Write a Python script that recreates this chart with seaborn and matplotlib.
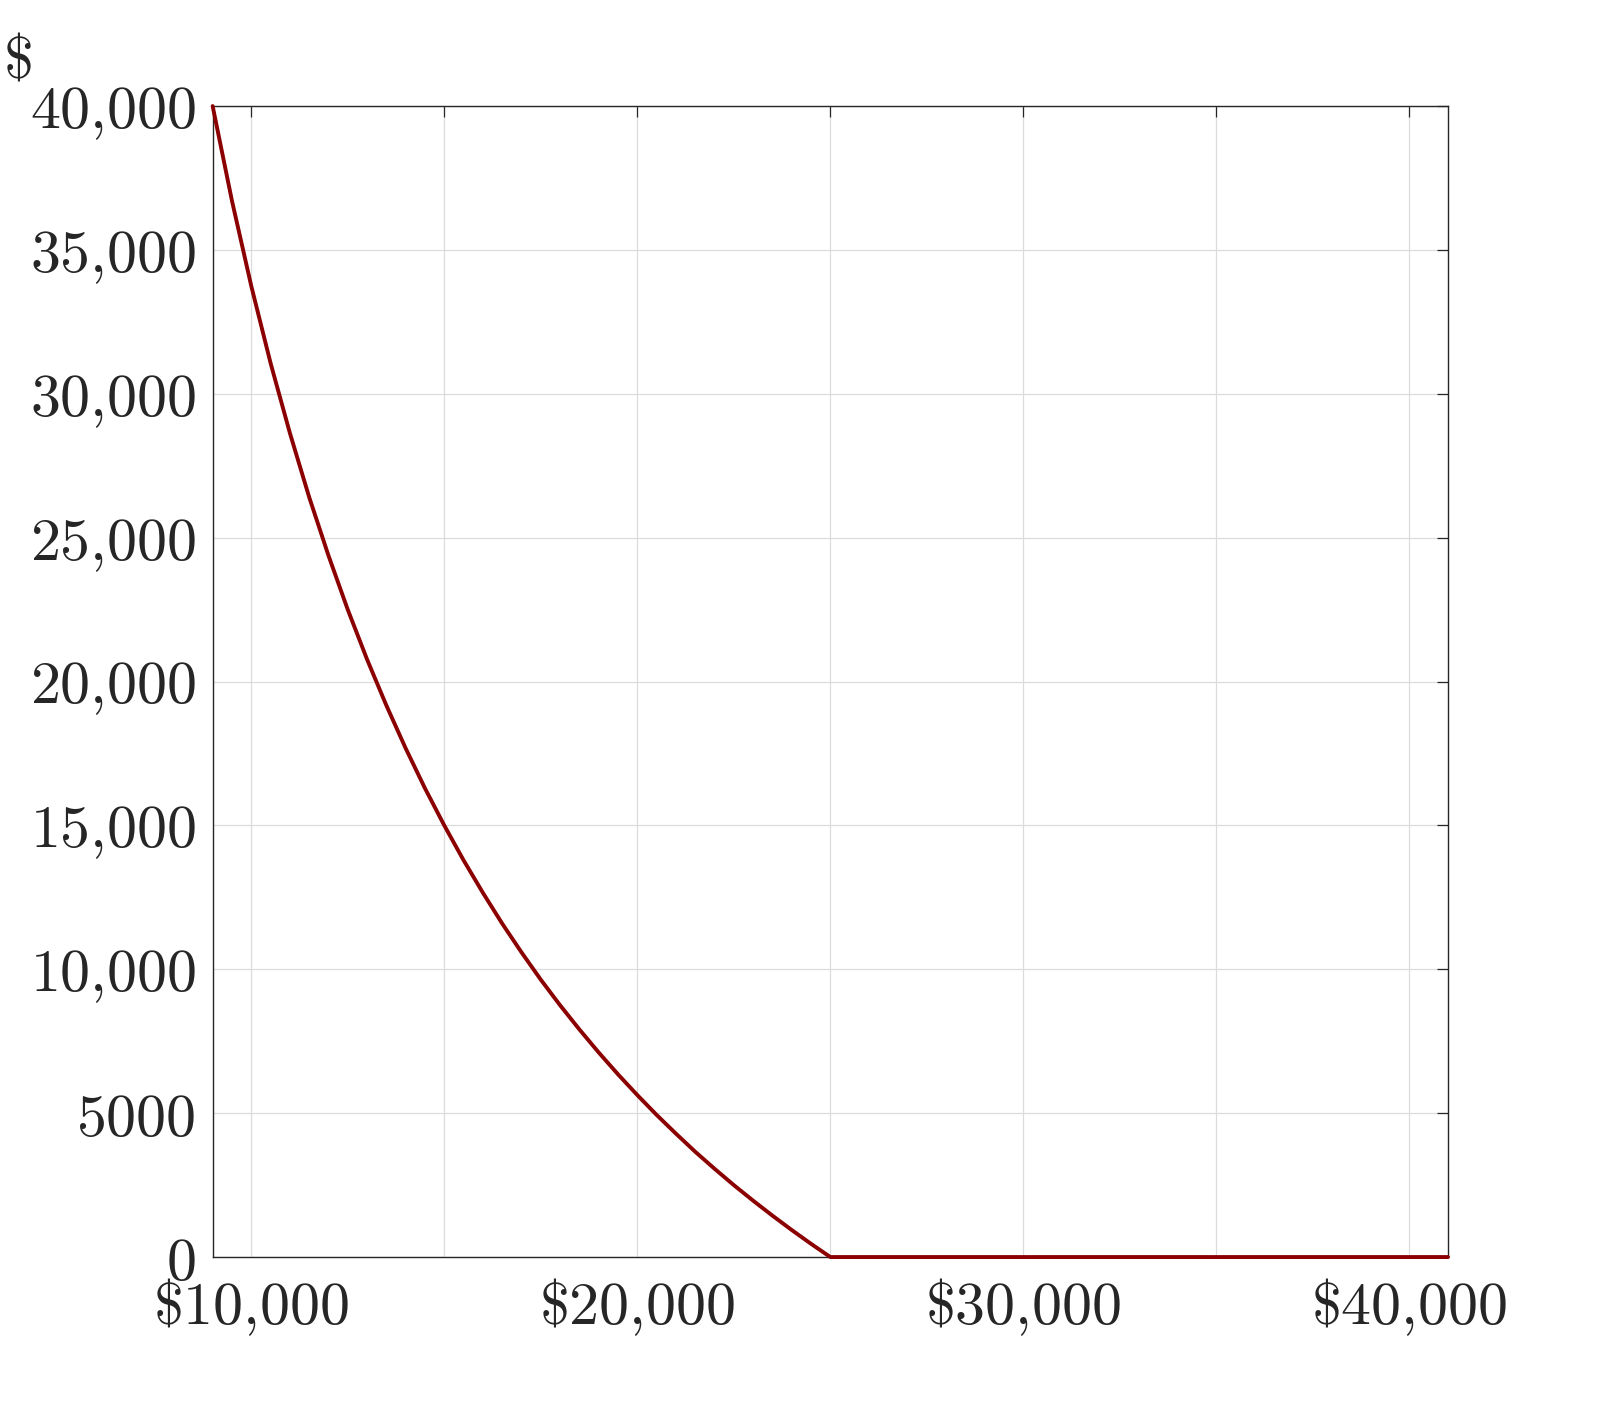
import numpy as np
import pandas as pd
import matplotlib
matplotlib.use("Agg")
import matplotlib.pyplot as plt
import seaborn as sns

# Values (income $ -> amount $)
income = [9000, 9500, 10000, 10500, 11000, 11500, 12000, 12500, 13000, 13500,
          14000, 14500, 15000, 15500, 16000, 16500, 17000, 17500, 18000, 18500,
          19000, 19500, 20000, 20500, 21000, 21500, 22000, 22500, 23000, 23500,
          24000, 24500, 25000, 41000]
amount = [40000, 36710, 33750, 31070, 28640, 26410, 24380, 22500, 20770, 19170,
          17680, 16290, 15000, 13790, 12660, 11590, 10590, 9640, 8750, 7910,
          7110, 6350, 5630, 4940, 4290, 3660, 3070, 2500, 1960, 1440,
          940, 460, 0, 0]

x_ticks = [10000, 15000, 20000, 25000, 30000, 35000, 40000]
x_tick_labels = [r"$\$10{,}000$", "", r"$\$20{,}000$", "", r"$\$30{,}000$", "", r"$\$40{,}000$"]
y_ticks = [0, 5000, 10000, 15000, 20000, 25000, 30000, 35000, 40000]
y_tick_labels = [r"$0$", r"$5000$", r"$10{,}000$", r"$15{,}000$", r"$20{,}000$",
                 r"$25{,}000$", r"$30{,}000$", r"$35{,}000$", r"$40{,}000$"]

sns.set_theme(style="white")
plt.rcParams["mathtext.fontset"] = "cm"
plt.rcParams["font.family"] = ["DejaVu Serif"]

df = pd.DataFrame({"income": income, "amount": amount})

fig = plt.figure(figsize=(8, 7.07), dpi=200)
ax = fig.add_axes([0.1329, 0.1110, 0.7721, 0.8140])

sns.lineplot(data=df, x="income", y="amount", ax=ax, color="#8B0000",
             linewidth=1.4, clip_on=False, zorder=5)

ax.set_xlim(9000, 41000)
ax.set_ylim(0, 40000)
ax.set_xticks(x_ticks)
ax.set_xticklabels(x_tick_labels)
ax.set_yticks(y_ticks)
ax.set_yticklabels(y_tick_labels)

ax.grid(True, color="#dcdcdc", linewidth=0.45)
ax.set_axisbelow(True)

for s in ax.spines.values():
    s.set_visible(True)
    s.set_color("#262626")
    s.set_linewidth(0.5)

ax.tick_params(axis="both", which="both", direction="in", length=4, width=0.45,
               color="#262626", top=True, right=True, labelsize=21.6,
               labelcolor="#262626")
ax.tick_params(axis="x", pad=7)
ax.tick_params(axis="y", pad=6)

ax.set_xlabel("")
ax.set_ylabel(r"$\$$", rotation=0, fontsize=21.6, color="#262626",
              ha="center", va="center")
ax.yaxis.set_label_coords(-0.158, 1.040)

fig.savefig("out.png", dpi=200)
